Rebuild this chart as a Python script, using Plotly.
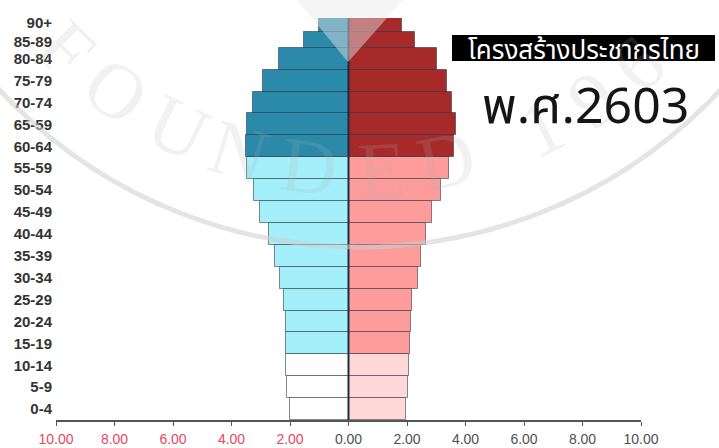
import math
import plotly.graph_objects as go

# Thai population pyramid, projected for B.E. 2603 (% of total population)
age_groups = ["0-4", "5-9", "10-14", "15-19", "20-24", "25-29", "30-34",
              "35-39", "40-44", "45-49", "50-54", "55-59", "60-64", "65-59",
              "70-74", "75-79", "80-84", "85-89", "90+"]
male_pct = [2.01, 2.10, 2.13, 2.12, 2.12, 2.21, 2.35, 2.53, 2.72, 3.01,
            3.24, 3.46, 3.50, 3.46, 3.27, 2.93, 2.38, 1.53, 1.02]
female_pct = [1.98, 2.03, 2.06, 2.10, 2.12, 2.18, 2.37, 2.48, 2.66, 2.86,
              3.15, 3.43, 3.62, 3.66, 3.54, 3.37, 3.03, 2.29, 1.83]
x_tick_vals = [-10, -8, -6, -4, -2, 0, 2, 4, 6, 8, 10]
x_tick_text = ["10.00", "8.00", "6.00", "4.00", "2.00", "0.00",
               "2.00", "4.00", "6.00", "8.00", "10.00"]
title_th = "โครงสร้างประชากรไทย"
year_th = "พ.ศ.2603"

# --- styling -------------------------------------------------------------
W, H = 719, 448
M_L, M_R, M_T, M_B = 56, 78, 18, 28
PW, PH = W - M_L - M_R, H - M_T - M_B

# colour by life stage: children (0-14), working age (15-59), elderly (60+)
def stage(i):
    return 0 if i < 3 else (1 if i < 12 else 2)

male_palette = ["#ffffff", "#a3effa", "#2b89a9"]
female_palette = ["#ffd7d7", "#fd9c9a", "#a62a2a"]
male_colors = [male_palette[stage(i)] for i in range(len(age_groups))]
female_colors = [female_palette[stage(i)] for i in range(len(age_groups))]

# band thickness of each row (the two oldest rows are drawn thinner)
row_height = [1.0] * (len(age_groups) - 2) + [0.72, 0.64]
edges = [-0.5]
for h in row_height:
    edges.append(edges[-1] + h)
centers = [(edges[i] + edges[i + 1]) / 2 for i in range(len(row_height))]
# small vertical nudges so the two tightly packed top labels keep apart
label_nudge = [0.0] * (len(age_groups) - 2) + [-0.07, 0.09]
label_pos = [c + d for c, d in zip(centers, label_nudge)]

outline = dict(color="rgba(35,45,60,0.55)", width=1)

fig = go.Figure()
fig.add_trace(go.Bar(
    y=centers, x=[-v for v in male_pct], orientation="h", width=row_height,
    marker=dict(color=male_colors, line=outline), showlegend=False,
    hoverinfo="skip"))
fig.add_trace(go.Bar(
    y=centers, x=female_pct, orientation="h", width=row_height,
    marker=dict(color=female_colors, line=outline), showlegend=False,
    hoverinfo="skip"))

neg_col, pos_col = "#e8475f", "#505050"
tick_labels = [
    f'<span style="color:{neg_col}">{t}</span>' if v < 0 else t
    for v, t in zip(x_tick_vals, x_tick_text)
]


def px_to_paper(px, py):
    return (px - M_L) / PW, (H - M_B - py) / PH


shapes = []
# centre divider
shapes.append(dict(type="line", xref="x", yref="paper", x0=0, x1=0, y0=0, y1=1,
                   line=dict(color="#1e2b44", width=2), layer="above"))

# faint circular seal drawn over the chart
cx, cy, r = 360, -245, 492
ex0, ey0 = px_to_paper(cx - r, cy - r)
ex1, ey1 = px_to_paper(cx + r, cy + r)
shapes.append(dict(type="circle", xref="paper", yref="paper",
                   x0=ex0, x1=ex1, y0=ey0, y1=ey1,
                   line=dict(color="rgba(205,205,205,0.55)", width=5),
                   layer="above"))
tri = [px_to_paper(297, 0), px_to_paper(403, 0), px_to_paper(348, 62)]
shapes.append(dict(type="path", xref="paper", yref="paper",
                   path="M {} {} L {} {} L {} {} Z".format(*[c for p in tri for c in p]),
                   fillcolor="rgba(232,232,232,0.45)", line=dict(width=0),
                   layer="above"))

# black title plate
bx0, by0 = px_to_paper(452, 61)
bx1, by1 = px_to_paper(715, 35)
shapes.append(dict(type="rect", xref="paper", yref="paper",
                   x0=bx0, x1=bx1, y0=by0, y1=by1,
                   fillcolor="#000000", line=dict(width=0), layer="above"))

annotations = []
seal_letters = ["F", "O", "U", "N", "D", "E", "D", "1", "9", "6"]
seal_angles = [45, 36, 26, 17, 7, -3, -12, -26, -34, -42]
for ch, ang in zip(seal_letters, seal_angles):
    a = math.radians(ang)
    lx = cx - 415 * math.sin(a)
    ly = cy + 415 * math.cos(a)
    px_, py_ = px_to_paper(lx, ly)
    annotations.append(dict(
        text=ch, x=px_, y=py_, xref="paper", yref="paper", showarrow=False,
        textangle=ang, xanchor="center", yanchor="middle",
        font=dict(family="Liberation Serif, DejaVu Serif, serif", size=78,
                  color="rgba(175,175,175,0.18)")))

tx, ty = px_to_paper(583.5, 51)
annotations.append(dict(
    text=title_th, x=tx, y=ty, xref="paper", yref="paper", showarrow=False,
    xanchor="center", yanchor="middle",
    font=dict(family="Noto Sans Thai, Noto Sans, DejaVu Sans, sans-serif",
              size=26, color="#ffffff")))
yx, yy = px_to_paper(585, 108)
annotations.append(dict(
    text=year_th, x=yx, y=yy, xref="paper", yref="paper", showarrow=False,
    xanchor="center", yanchor="middle",
    font=dict(family="Noto Sans Thai, Liberation Sans, Arial, sans-serif",
              size=50, color="#151515")))

fig.update_layout(
    width=W, height=H,
    margin=dict(l=M_L, r=M_R, t=M_T, b=M_B, pad=0),
    paper_bgcolor="#ffffff", plot_bgcolor="#ffffff",
    barmode="overlay", bargap=0,
    shapes=shapes, annotations=annotations,
    font=dict(family="Liberation Sans, Arial, sans-serif"),
)
fig.update_xaxes(
    range=[-10, 10], tickvals=x_tick_vals, ticktext=tick_labels,
    tickfont=dict(size=14, color=pos_col), showgrid=False, zeroline=False,
    showline=True, linecolor="#555555", linewidth=2,
    ticks="outside", ticklen=4, tickcolor="#555555", tickwidth=1,
    ticklabelstandoff=1, automargin=False, fixedrange=True)
fig.update_yaxes(
    range=[edges[0], edges[-1]], tickvals=label_pos, ticktext=age_groups,
    tickfont=dict(size=15, color="#333333", weight="bold"), showgrid=False,
    zeroline=False, showline=False, ticks="", ticklabelstandoff=3,
    automargin=False, fixedrange=True)

fig.write_html("out.html", config={"displayModeBar": False})
